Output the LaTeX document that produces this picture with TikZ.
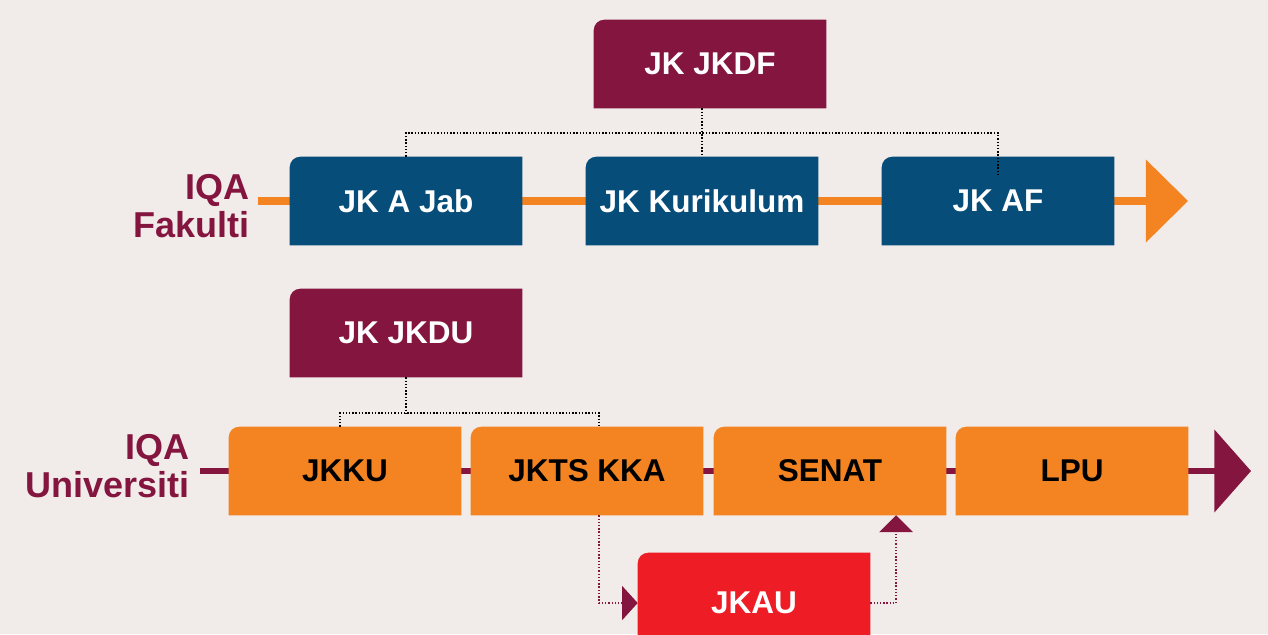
\documentclass[tikz,border=0pt]{standalone}
\usepackage{fontspec}
\setmainfont{Liberation Sans}
\usetikzlibrary{arrows.meta,backgrounds}

\definecolor{iqaplum}{HTML}{84153F}
\definecolor{iqablue}{HTML}{064D7A}
\definecolor{iqaorange}{HTML}{F38421}
\definecolor{iqared}{HTML}{EE1C25}
\definecolor{iqapaper}{HTML}{F1ECEA}

\tikzset{
  card/.style={minimum width=5.8cm, minimum height=2.2cm, inner sep=0pt,
    font=\fontsize{22.4}{26}\selectfont\bfseries},
  stage/.style={font=\fontsize{25.6}{27}\selectfont\bfseries, text=iqaplum,
    align=right, anchor=east, inner sep=0pt},
  link/.style={line width=1pt, dash pattern=on 1pt off 1.3pt},
}

% fill a card: only the top left corner is rounded
\newcommand{\cardfill}[2]{%
  \fill[#2] (#1.south west) -- ([yshift=-7.5pt]#1.north west)
    arc[start angle=180, end angle=90, radius=7.5pt]
    -- (#1.north east) -- (#1.south east) -- cycle;}

\begin{document}
\begin{tikzpicture}[x=0.025cm, y=-0.025cm]
  \useasboundingbox (0,0) rectangle (1268,634);

  % IQA Fakulti row
  \node[stage] (fakulti) at (250,206) {IQA\\Fakulti};
  \node[card, text=white] (jkdf) at (710,64) {JK JKDF};
  \node[card, text=white] (jkab) at (406,201) {JK A Jab};
  \node[card, text=white] (kuri) at (702,201) {JK Kurikulum};
  \node[card, text=white] (jkaf) at (998,201) {JK AF};
  \coordinate (fakstart) at (258,201);
  \coordinate (fakend) at (1188,201);

  % IQA Universiti row
  \node[stage] (univ) at (190,466) {IQA\\Universiti};
  \node[card, text=white] (jkdu) at (406,333) {JK JKDU};
  \node[card] (jkku) at (345,471) {JKKU};
  \node[card] (jkts) at (587,471) {JKTS KKA};
  \node[card] (senat) at (830,471) {SENAT};
  \node[card] (lpu) at (1072,471) {LPU};
  \node[card, text=white, minimum height=2.5cm] (jkau) at (754,603) {JKAU};
  \coordinate (univstart) at (200,471);
  \coordinate (univend) at (1251,471);

  \begin{scope}[on background layer]
    \fill[iqapaper] (0,0) rectangle (1268,634);

    % the two time lines
    \draw[iqaorange, line width=5pt, -{Triangle[length=30pt, width=58pt]}]
      (fakstart) -- (fakend);
    \draw[iqaplum, line width=4.3pt, -{Triangle[length=26pt, width=58pt]}]
      (univstart) -- (univend);

    % the cards
    \cardfill{jkdf}{iqaplum}
    \cardfill{jkab}{iqablue}
    \cardfill{kuri}{iqablue}
    \cardfill{jkaf}{iqablue}
    \cardfill{jkdu}{iqaplum}
    \cardfill{jkku}{iqaorange}
    \cardfill{jkts}{iqaorange}
    \cardfill{senat}{iqaorange}
    \cardfill{lpu}{iqaorange}
    \cardfill{jkau}{iqared}
  \end{scope}

  % dotted links from JK JKDF
  \coordinate (dfbar) at (704,133);
  \coordinate (afdrop) at ([yshift=-13pt]jkaf.north);
  \draw[link] (kuri.north |- jkdf.south) -- (kuri.north);
  \draw[link] (jkab.north) |- (afdrop |- dfbar) -- (afdrop);

  % dotted links from JK JKDU
  \coordinate (dubar) at (408,413);
  \coordinate (kudrop) at ([xshift=-3.5pt]jkku.north);
  \coordinate (tsdrop) at ([xshift=8.5pt]jkts.north);
  \draw[link] (jkdu.south) -- (jkdu.south |- dubar);
  \draw[link] (kudrop) |- (tsdrop |- dubar) -- (tsdrop);

  % JKTS KKA to JKAU, JKAU to SENAT
  \coordinate (tsout) at ([xshift=8.5pt]jkts.south);
  \coordinate (senin) at ([xshift=47pt]senat.south);
  \draw[link, iqaplum, -{Triangle[length=11pt, width=24pt]}] (tsout) |- (jkau.west);
  \draw[link, iqaplum, -{Triangle[length=12pt, width=24pt]}] (jkau.east) -| (senin);
\end{tikzpicture}
\end{document}
